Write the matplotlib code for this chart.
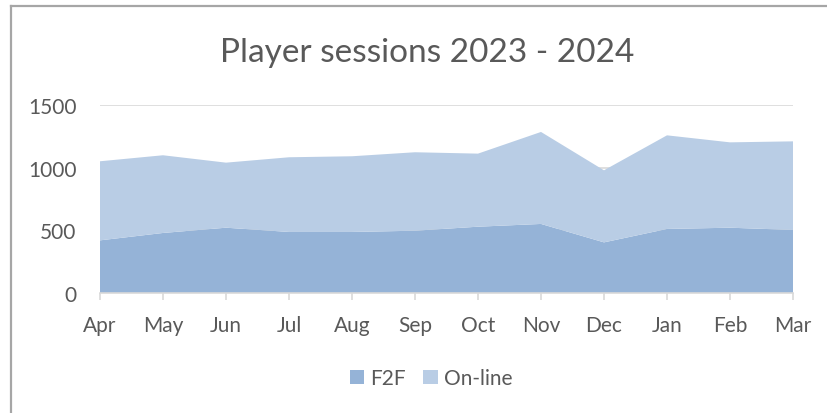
import matplotlib
matplotlib.use("Agg")
import matplotlib.pyplot as plt
from matplotlib.lines import Line2D
from matplotlib.patches import Patch
import numpy as np

months = ["Apr", "May", "Jun", "Jul", "Aug", "Sep", "Oct", "Nov", "Dec", "Jan", "Feb", "Mar"]
f2f = [420, 479, 521, 487, 487, 497, 529, 551, 404, 511, 521, 503]
online = [631, 620, 519, 596, 604, 626, 583, 734, 575, 747, 681, 707]
yticks = [0, 500, 1000, 1500]
title = "Player sessions 2023 - 2024"

plt.rcParams['font.family'] = ['Lato', 'DejaVu Sans']
txt = "#595959"

fig = plt.figure(figsize=(8.28, 4.14), dpi=100)
W, H = 828, 414
ax = fig.add_axes([100 / W, 1 - 294 / H, (793 - 100) / W, (294 - 106) / H])

x = np.arange(len(months))
ax.stackplot(x, f2f, online, colors=["#95B3D7", "#B9CDE5"], linewidth=0, zorder=2)
ax.set_xlim(0, len(months) - 1)
ax.set_ylim(0, 1500)
ax.set_yticks(yticks)
ax.set_yticklabels([str(v) for v in yticks])
ax.yaxis.grid(True, color="#D9D9D9", linewidth=1.2, zorder=0)
ax.set_axisbelow(True)
ax.set_xticks(x)
ax.set_xticklabels(months)
for s in ["top", "right", "left"]:
    ax.spines[s].set_visible(False)
ax.spines["bottom"].set_color("#D9D9D9")
ax.spines["bottom"].set_linewidth(1.2)
ax.spines["bottom"].set_zorder(3)
ax.tick_params(axis="y", length=0, labelsize=15, labelcolor=txt, pad=17)
ax.tick_params(axis="x", length=5, width=1.2, color="#D9D9D9", labelsize=15, labelcolor=txt, pad=11)

fig.text(427 / W, 1 - 53 / H, title, ha="center", va="center", fontsize=24, color=txt)

handles = [Patch(facecolor="#95B3D7", edgecolor="none"), Patch(facecolor="#B9CDE5", edgecolor="none")]
fig.legend(handles, ["F2F", "On-line"], loc="center", bbox_to_anchor=(431 / W, 1 - 379 / H),
           ncol=2, frameon=False, fontsize=15, labelcolor=txt, handlelength=0.68, handleheight=0.68,
           handletextpad=0.3, columnspacing=0.85)

# partial chart border (left and top)
fig.add_artist(Line2D([11 / W, 11 / W], [0, 1 - 7 / H], transform=fig.transFigure, color="#A6A6A6", linewidth=1.6))
fig.add_artist(Line2D([11 / W, 1], [1 - 7 / H, 1 - 7 / H], transform=fig.transFigure, color="#A6A6A6", linewidth=1.6))

fig.savefig("out.png", dpi=100, facecolor="white")
